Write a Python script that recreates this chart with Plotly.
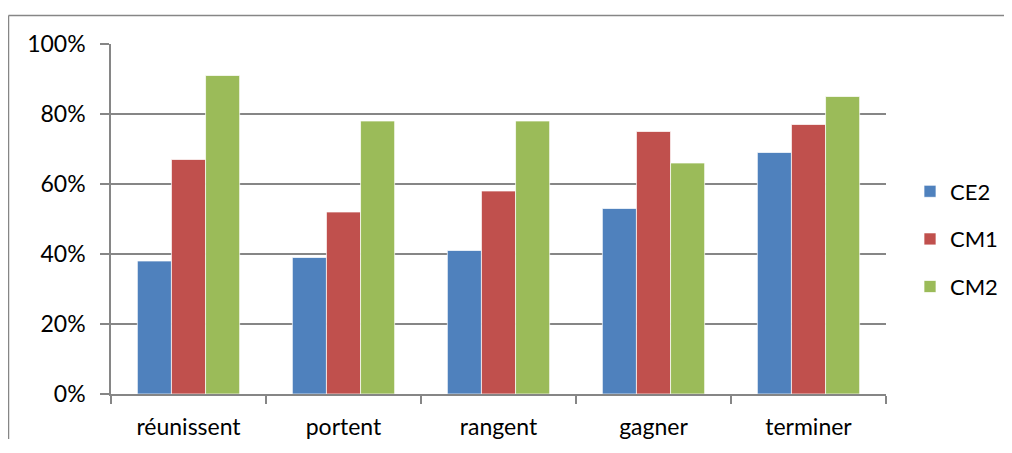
import plotly.graph_objects as go

categories = ["réunissent", "portent", "rangent", "gagner", "terminer"]
ce2 = [0.38, 0.39, 0.41, 0.53, 0.69]
cm1 = [0.67, 0.52, 0.58, 0.75, 0.77]
cm2 = [0.91, 0.78, 0.78, 0.66, 0.85]
series_names = ["CE2", "CM1", "CM2"]
colors = ["#4F81BD", "#C0504D", "#9BBB59"]
y_ticks = [0, 0.2, 0.4, 0.6, 0.8, 1.0]
y_tick_labels = ["0%", "20%", "40%", "60%", "80%", "100%"]

OFF = 8  # page body margin
W, H = 1012 - 2 * OFF, 453 - 2 * OFF - 6
# plot area in screen pixels: x 111..886, y 44..394
L, T = 111 - OFF, 44 - OFF
R, B = W - (886 - OFF), H - (394 - OFF)
pw, ph = W - L - R, H - T - B

fig = go.Figure()
for name, vals, col in zip(series_names, [ce2, cm1, cm2], colors):
    fig.add_trace(go.Bar(
        x=categories, y=vals, name=name, legendgroup=name,
        marker=dict(color=col, line=dict(color="rgba(255,255,255,0.7)", width=1)),
    ))

def px_x(x):
    return (x - OFF - L) / pw

def px_y(y):
    return (H - B - (y - OFF)) / ph

border = dict(color="#868686", width=1.5)
fig.update_layout(
    width=W, height=H,
    margin=dict(l=L, r=R, t=T, b=B, autoexpand=False),
    paper_bgcolor="white", plot_bgcolor="white",
    barmode="group", bargap=0.34, bargroupgap=0,
    font=dict(family="Lato, 'Open Sans', sans-serif", size=23, color="black"),
    showlegend=True,
    legend=dict(
        x=px_x(910), y=px_y(239), xanchor="left", yanchor="middle",
        traceorder="grouped", tracegroupgap=16,
        font=dict(size=22), bgcolor="rgba(0,0,0,0)",
    ),
    xaxis=dict(
        type="category", showgrid=False, showline=True, linecolor="#868686", linewidth=1.5,
        ticks="outside", tickson="boundaries", ticklen=8, tickcolor="#868686", tickwidth=1.5,
        ticklabelstandoff=12, tickfont=dict(size=23), automargin=False,
    ),
    yaxis=dict(
        range=[0, 1], tickvals=y_ticks, ticktext=y_tick_labels,
        showgrid=True, gridcolor="#868686", gridwidth=1.5,
        showline=True, linecolor="#868686", linewidth=1.5,
        ticks="outside", ticklen=9, tickcolor="#868686", tickwidth=1.5,
        ticklabelstandoff=10, zeroline=False, tickfont=dict(size=23), automargin=False,
    ),
    shapes=[
        dict(type="line", xref="paper", yref="paper",
             x0=px_x(8.5), x1=px_x(1100), y0=px_y(15.5), y1=px_y(15.5), line=border, layer="below"),
        dict(type="line", xref="paper", yref="paper",
             x0=px_x(8.5), x1=px_x(8.5), y0=px_y(15.5), y1=px_y(500), line=border, layer="below"),
    ],
)

fig.write_html("out.html")
